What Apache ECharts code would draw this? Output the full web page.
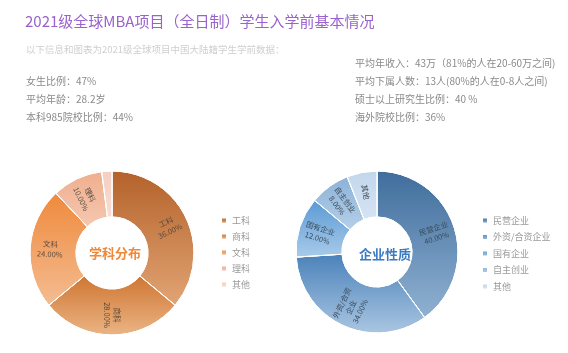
<!DOCTYPE html>
<html><head><meta charset="utf-8">
<script src="https://cdn.jsdelivr.net/npm/echarts@6/dist/echarts.min.js"></script>
<style>html,body{margin:0;padding:0;background:#fff}#c{width:568px;height:353px}</style>
</head><body><div id="c"></div>
<script>
const subjectNames = ['工科','商科','文科','理科','其他'];
const subjectValues = [36, 28, 24, 10, 2];
const companyNames = ['民营企业','外资/合资企业','国有企业','自主创业','其他'];
const companyValues = [40, 34, 12, 8, 6];
const leftStats = ['女生比例：47%','平均年龄：28.2岁','本科985院校比例：44%'];
const rightStats = ['平均年收入：43万（81%的人在20-60万之间)','平均下属人数：13人(80%的人在0-8人之间)','硕士以上研究生比例：40 %','海外院校比例：36%'];

const subjectColors = [['#b4622a','#e2a474'],['#cf7632','#ebb585'],['#ef8a3c','#f4bc92'],['#efae8e','#f5c8b0'],['#f4cfc2','#f8ddd3']];
const companyColors = [['#3f6d9c','#90b2d2'],['#4b82ba','#aac6e2'],['#5a9ad4','#a9cbe9'],['#8cb2d8','#b4cfe8'],['#c2d6ec','#d6e4f3']];

function grad(c){return new echarts.graphic.LinearGradient(0,0,0,1,[{offset:0,color:c[0]},{offset:1,color:c[1]}]);}
const FONT = '"Noto Sans CJK SC", "Noto Sans", sans-serif';
const chart = echarts.init(document.getElementById('c'));

const titles = [
  {text:'2021级全球MBA项目（全日制）学生入学前基本情况', left:20, top:9, textStyle:{color:'#9a62cc', fontSize:15, fontWeight:'normal', fontFamily:FONT}},
  {text:'以下信息和图表为2021级全球项目中国大陆籍学生学前数据：', left:21, top:40, textStyle:{color:'#cfcfcf', fontSize:9.5, fontWeight:'normal', fontFamily:FONT}},
  {text:'学科分布', left:84, top:242, textStyle:{color:'#f0883a', fontSize:13, fontWeight:'bold', fontFamily:FONT}},
  {text:'企业性质', left:354, top:243, textStyle:{color:'#3b7cc0', fontSize:13, fontWeight:'bold', fontFamily:FONT}}
];
leftStats.forEach((t,i)=>titles.push({text:t,left:21,top:71+i*18.3,textStyle:{color:'#8a8a8a',fontSize:10,fontWeight:'normal',fontFamily:FONT}}));
rightStats.forEach((t,i)=>titles.push({text:t,left:350,top:53+i*18.2,textStyle:{color:'#8a8a8a',fontSize:10,fontWeight:'normal',fontFamily:FONT}}));

function labelFmt(p){
  let n = p.name;
  if(n==='外资/合资企业') n='外资/合资\n企业';
  return n + '\n' + p.percent.toFixed(2) + '%';
}

chart.setOption({
  title: titles,
  legend: [
    {orient:'vertical', left:215, top:210, itemWidth:6, itemHeight:6, itemGap:5, icon:'rect', data:subjectNames.slice(), textStyle:{color:'#999',fontSize:9,lineHeight:11,fontFamily:FONT}},
    {orient:'vertical', left:476, top:210, itemWidth:6, itemHeight:6, itemGap:5.5, icon:'rect', data:companyNames.map((n,i)=>n+(i===4?' ':'')), textStyle:{color:'#999',fontSize:9,lineHeight:11,fontFamily:FONT}}
  ],
  series: [
    {type:'pie', center:[112,253], radius:[36,82], startAngle:90, clockwise:true, avoidLabelOverlap:false,
     itemStyle:{borderColor:'#fff', borderWidth:1},
     label:{position:'inside', rotate:'radial', formatter:labelFmt, color:'#5a4a40', fontSize:7.5, lineHeight:10, fontFamily:FONT},
     labelLine:{show:false},
     data: subjectNames.map((n,i)=>({name:n, value:subjectValues[i], itemStyle:{color:grad(subjectColors[i])}, label:{show:i<4}}))},
    {type:'pie', center:[377,252], radius:[35,81], startAngle:90, clockwise:true, avoidLabelOverlap:false,
     itemStyle:{borderColor:'#fff', borderWidth:1},
     label:{position:'inside', rotate:'radial', formatter:labelFmt, color:'#3a4a5a', fontSize:7.5, lineHeight:10, fontFamily:FONT},
     labelLine:{show:false},
     data: companyNames.map((n,i)=>({name:n+(i===4?' ':''), value:companyValues[i], itemStyle:{color:grad(companyColors[i])}, label: i===4?{formatter:'其他'}:{} }))}
  ]
});
</script></body></html>
